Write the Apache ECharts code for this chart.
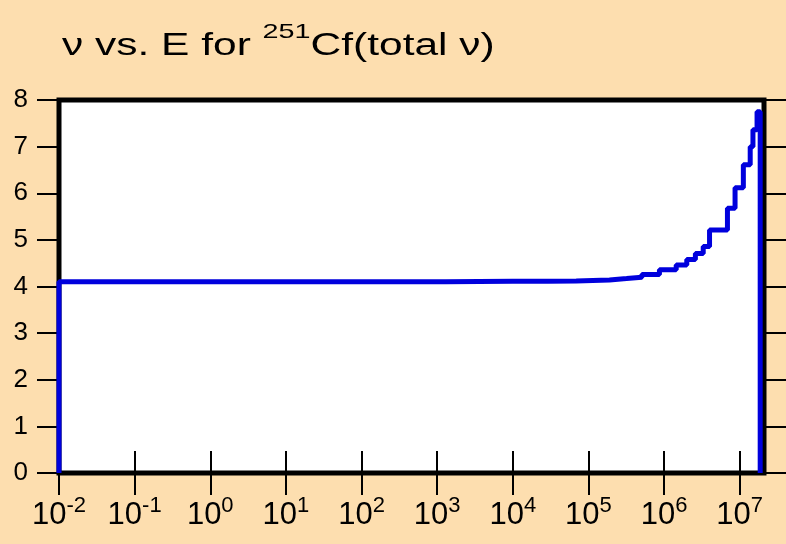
<!DOCTYPE html>
<html>
<head>
<meta charset="utf-8">
<script src="https://cdn.jsdelivr.net/npm/echarts@6/dist/echarts.min.js"></script>
<style>
  html, body { margin: 0; padding: 0; background: #fddeaf; }
  #chart { width: 786px; height: 544px; }
</style>
</head>
<body>
<div id="chart"></div>
<script>
// neutron energy (eV) where each step starts, and nu-bar on that step
const energies = [0.01, 0.01, 1.3e3, 3.6e3, 1.0e4, 2.9e4, 6.9e4, 1.9e5, 3.2e5, 5.1e5, 8.7e5,
  1.45e6, 2.0e6, 2.6e6, 3.3e6, 4.0e6, 6.9e6, 8.7e6, 1.12e7, 1.38e7, 1.5e7, 1.7e7, 1.87e7];
const nuValues = [0, 4.10, 4.105, 4.11, 4.115, 4.12, 4.14, 4.17, 4.20, 4.26, 4.36,
  4.46, 4.58, 4.71, 4.86, 5.21, 5.68, 6.12, 6.61, 7.0, 7.36, 7.75, 0];
const xTicks = [1e-2, 1e-1, 1e0, 1e1, 1e2, 1e3, 1e4, 1e5, 1e6, 1e7];
const yTicks = [0, 1, 2, 3, 4, 5, 6, 7, 8];

const FONT = 'Arial, "Liberation Sans", sans-serif';
const chart = echarts.init(document.getElementById('chart'));

const xBase = {
  type: 'log',
  logBase: 10,
  min: 0.01,
  max: 2.1e7,
  axisLine: { show: false },
  splitLine: { show: false },
  axisTick: {
    show: true,
    inside: false,
    length: 22,
    customValues: xTicks,
    lineStyle: { color: '#000', width: 2 }
  }
};
const yBase = {
  type: 'value',
  min: 0,
  max: 8,
  interval: 1,
  axisLine: { show: false },
  splitLine: { show: false },
  axisTick: { show: true, inside: false, length: 22, lineStyle: { color: '#000', width: 2 } }
};

chart.setOption({
  backgroundColor: '#fddeaf',
  animation: false,
  // title drawn as graphic text so it can be stretched wide like the original
  graphic: [{
    type: 'text',
    x: 62,
    y: 22,
    scaleX: 1.37,
    style: {
      text: '{n|ν vs. E for }{s|251}{n|Cf(total ν)}',
      rich: {
        n: { fontFamily: FONT, fontSize: 31, fill: '#000', lineHeight: 40, verticalAlign: 'bottom' },
        s: { fontFamily: FONT, fontSize: 21, fill: '#000', lineHeight: 24, verticalAlign: 'top' }
      }
    }
  }],
  grid: {
    left: 59,
    right: 22,
    top: 100,
    bottom: 71,
    show: true,
    backgroundColor: '#fff',
    borderColor: '#000',
    borderWidth: 5
  },
  xAxis: [
    Object.assign({}, xBase, {
      position: 'bottom',
      axisLabel: {
        show: true,
        margin: 22,
        customValues: xTicks,
        formatter: v => '{b|10}{s|' + Math.round(Math.log10(v)) + '}',
        rich: {
          b: { fontFamily: FONT, fontSize: 31, color: '#000', lineHeight: 36, verticalAlign: 'bottom' },
          s: { fontFamily: FONT, fontSize: 22, color: '#000', lineHeight: 22, verticalAlign: 'top' }
        }
      }
    }),
    Object.assign({}, xBase, { position: 'top', axisLabel: { show: false } })
  ],
  yAxis: [
    Object.assign({}, yBase, {
      position: 'left',
      axisLabel: { show: true, margin: 31, fontFamily: FONT, fontSize: 26, color: '#000',
        formatter: v => yTicks.includes(v) ? String(v) : '' }
    }),
    Object.assign({}, yBase, { position: 'right', axisLabel: { show: false } })
  ],
  series: [{
    type: 'line',
    step: 'end',
    showSymbol: false,
    symbol: 'none',
    data: energies.map((e, i) => [e, nuValues[i]]),
    lineStyle: { color: '#0000dd', width: 5 },
    z: 1
  }]
});
</script>
</body>
</html>
